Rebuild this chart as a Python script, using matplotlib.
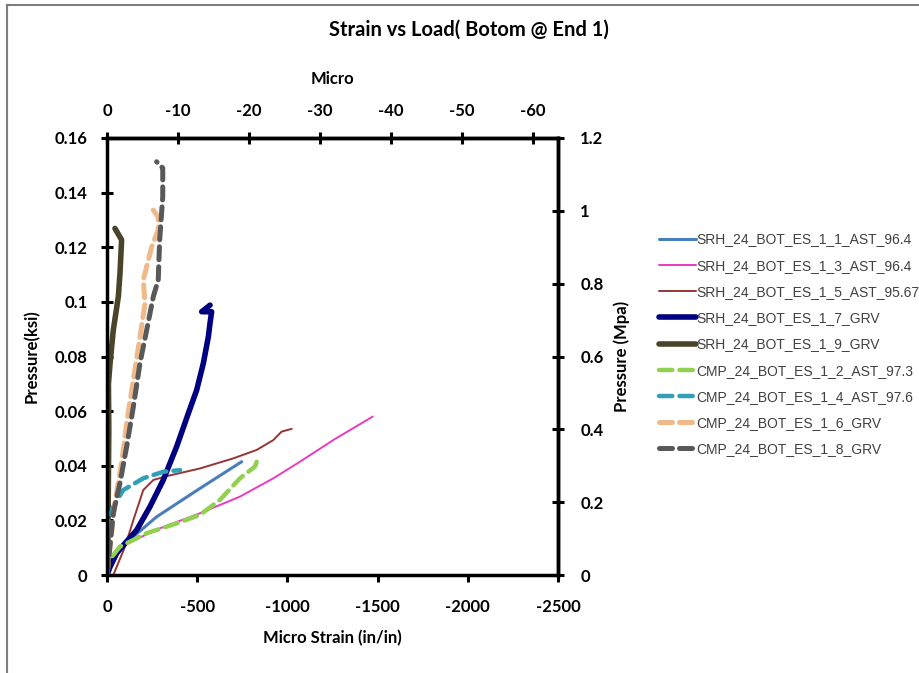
import matplotlib
matplotlib.use("Agg")
import matplotlib.pyplot as plt
from matplotlib.lines import Line2D
from matplotlib.font_manager import FontProperties

# Strain readings (micro strain, in/in) and pressure (ksi) for each gauge
srh_1_1_x = [0, -72, -146, -275, -515, -747]
srh_1_1_y = [0, 0.0104, 0.014, 0.0213, 0.0317, 0.0415]

srh_1_3_x = [0, -72, -294, -515, -737, -922, -1070, -1254, -1473]
srh_1_3_y = [0, 0.0104, 0.0171, 0.0226, 0.0287, 0.0354, 0.0415, 0.0494, 0.058]

srh_1_5_x = [-35, -100, -146, -201, -257, -331, -515, -700, -830, -922, -968, -1024]
srh_1_5_y = [0, 0.0104, 0.0201, 0.0311, 0.0348, 0.0362, 0.039, 0.0427, 0.0458, 0.0494, 0.0525, 0.0535]

srh_1_7_x = [0, -17, -54, -100, -165, -238, -312, -386, -451, -497, -534, -562, -571, -580, -525, -571]
srh_1_7_y = [0, 0.003, 0.008, 0.0116, 0.0165, 0.025, 0.0348, 0.047, 0.0592, 0.0677, 0.0775, 0.0873, 0.0922, 0.0964, 0.0964, 0.0988]

srh_1_9_x = [0, -4, -7, -10, -8, -17, -35, -63, -72, -81, -44]
srh_1_9_y = [0, 0.0044, 0.0287, 0.0531, 0.0700, 0.0775, 0.0897, 0.102, 0.1105, 0.1227, 0.1269]

cmp_1_2_x = [0, -6, -72, -220, -386, -515, -626, -737, -820, -830]
cmp_1_2_y = [0, 0.0049, 0.0104, 0.0153, 0.0189, 0.022, 0.0275, 0.0354, 0.0397, 0.0415]

cmp_1_4_x = [0, -7, -35, -90, -201, -312, -405]
cmp_1_4_y = [0, 0.0201, 0.025, 0.0311, 0.0354, 0.0378, 0.0384]

cmp_1_6_x = [0, -17, -44, -81, -109, -146, -183, -211, -201, -248, -284, -284, -257]
cmp_1_6_y = [0, 0.0104, 0.0264, 0.041, 0.0556, 0.0714, 0.0872, 0.0995, 0.108, 0.1202, 0.1263, 0.131, 0.1336]

cmp_1_8_x = [0, -7, -35, -72, -109, -146, -183, -220, -257, -284, -292, -309, -309, -275]
cmp_1_8_y = [0, 0.0044, 0.0227, 0.0337, 0.047, 0.0616, 0.0776, 0.0897, 0.102, 0.108, 0.1227, 0.1385, 0.149, 0.1513]

series_names = [
    "SRH_24_BOT_ES_1_1_AST_96.4",
    "SRH_24_BOT_ES_1_3_AST_96.4",
    "SRH_24_BOT_ES_1_5_AST_95.67",
    "SRH_24_BOT_ES_1_7_GRV",
    "SRH_24_BOT_ES_1_9_GRV",
    "CMP_24_BOT_ES_1_2_AST_97.3",
    "CMP_24_BOT_ES_1_4_AST_97.6",
    "CMP_24_BOT_ES_1_6_GRV",
    "CMP_24_BOT_ES_1_8_GRV",
]

x_ticks = [0, -500, -1000, -1500, -2000, -2500]
top_ticks = [0, -10, -20, -30, -40, -50, -60]
y_ticks = [0, 0.02, 0.04, 0.06, 0.08, 0.1, 0.12, 0.14, 0.16]
y_tick_labels = ["0", "0.02", "0.04", "0.06", "0.08", "0.1", "0.12", "0.14", "0.16"]
mpa_ticks = [0, 0.2, 0.4, 0.6, 0.8, 1, 1.2]
mpa_tick_labels = ["0", "0.2", "0.4", "0.6", "0.8", "1", "1.2"]

IN_PER_MM = 39.37

series = [
    (srh_1_1_x, srh_1_1_y, dict(color="#4a7ebb", lw=2.2, ls="-")),
    (srh_1_3_x, srh_1_3_y, dict(color="#e83bbf", lw=1.4, ls="-")),
    (srh_1_5_x, srh_1_5_y, dict(color="#943634", lw=1.4, ls="-")),
    (srh_1_7_x, srh_1_7_y, dict(color="#000080", lw=4.0, ls="-")),
    (srh_1_9_x, srh_1_9_y, dict(color="#4a452a", lw=4.0, ls="-")),
    (cmp_1_2_x, cmp_1_2_y, dict(color="#92d050", lw=3.2, ls=(0, (3, 1.6)))),
    (cmp_1_4_x, cmp_1_4_y, dict(color="#31a0b6", lw=3.2, ls=(0, (3, 1.6)))),
    (cmp_1_6_x, cmp_1_6_y, dict(color="#f0b98a", lw=3.6, ls=(0, (2.6, 1.4)))),
    (cmp_1_8_x, cmp_1_8_y, dict(color="#595959", lw=3.6, ls=(0, (2.6, 1.4)))),
]

plt.rcParams["font.family"] = ["Lato", "DejaVu Sans"]

fig = plt.figure(figsize=(9.2, 6.73), dpi=100)
ax = fig.add_axes([107 / 920, 1 - 575 / 673, 451 / 920, 437 / 673])

for (xs, ys, st), name in zip(series, series_names):
    ax.plot(xs, ys, label=name, solid_capstyle="round", dash_capstyle="round", **st)

ax.set_xlim(0, -2500)
ax.set_ylim(0, 0.16)
ax.set_xticks(x_ticks)
ax.set_xticklabels([str(t) for t in x_ticks])
ax.set_yticks(y_ticks)
ax.set_yticklabels(y_tick_labels)

for side in ["left", "right", "top", "bottom"]:
    ax.spines[side].set_linewidth(2.5)
    ax.spines[side].set_color("black")

FS = 12
ax.tick_params(axis="x", direction="out", length=5, width=2.2, pad=12)
ax.tick_params(axis="y", direction="inout", length=8, width=2.2, pad=10)
for lbl in ax.get_xticklabels() + ax.get_yticklabels():
    lbl.set_fontsize(FS)
    lbl.set_fontweight("bold")

ax.set_xlabel("Micro Strain (in/in)", fontsize=FS, fontweight="bold", labelpad=11)
ax.set_ylabel("Pressure(ksi)", fontsize=FS, fontweight="bold", labelpad=11)

# secondary x axis: strain scaled by 39.37
top = ax.secondary_xaxis("top", functions=(lambda v: v / IN_PER_MM, lambda v: v * IN_PER_MM))
top.set_xticks(top_ticks)
top.set_xticklabels([str(t) for t in top_ticks])
top.tick_params(direction="inout", length=8, width=2.2, pad=10)
for lbl in top.get_xticklabels():
    lbl.set_fontsize(FS)
    lbl.set_fontweight("bold")
top.set_xlabel("Micro", fontsize=FS, fontweight="bold", labelpad=13)
top.spines["top"].set_linewidth(2.5)

# secondary y axis: ksi to MPa
right = ax.secondary_yaxis("right", functions=(lambda v: v * 7.5, lambda v: v / 7.5))
right.set_yticks(mpa_ticks)
right.set_yticklabels(mpa_tick_labels)
right.tick_params(direction="inout", length=8, width=2.2, pad=12)
for lbl in right.get_yticklabels():
    lbl.set_fontsize(FS)
    lbl.set_fontweight("bold")
right.set_ylabel("Pressure (Mpa)", fontsize=FS, fontweight="bold", labelpad=7)
right.spines["right"].set_linewidth(2.5)

legend_font = FontProperties(family="Liberation Sans", size=10)
leg = fig.legend(
    loc="upper left",
    bbox_to_anchor=(647 / 920, 1 - 220 / 673),
    frameon=False,
    handlelength=2.6,
    handletextpad=0.05,
    labelspacing=0.88,
    prop=legend_font,
)
for txt in leg.get_texts():
    txt.set_color("#404040")

fig.text(0.51, 1 - 30 / 673, "Strain vs Load( Botom @ End 1)", ha="center", va="center",
         fontsize=14.5, fontweight="bold")

# chart frame
fig.add_artist(Line2D([7 / 920, 7 / 920], [0, 1 - 5 / 673], transform=fig.transFigure,
                      color="#7f7f7f", lw=1.5))
fig.add_artist(Line2D([7 / 920, 1], [1 - 5 / 673, 1 - 5 / 673], transform=fig.transFigure,
                      color="#7f7f7f", lw=1.5))

fig.savefig("out.png", dpi=100, facecolor="white")
